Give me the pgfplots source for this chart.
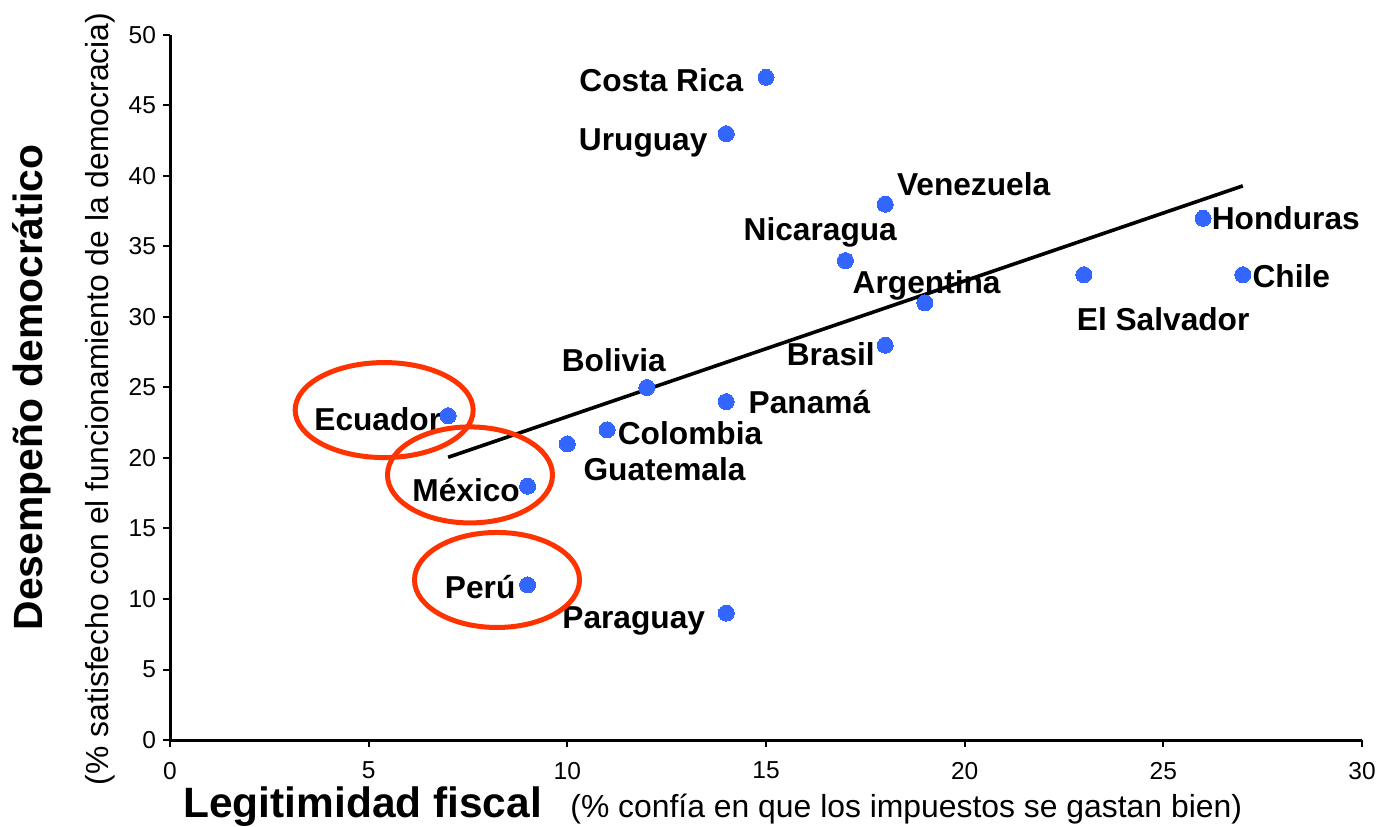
\documentclass[border=0pt]{standalone}
\usepackage{fontspec}
\setmainfont{Liberation Sans}
\usepackage{pgfplots}
\pgfplotsset{compat=1.18}
\usetikzlibrary{calc}
\definecolor{ptblue}{HTML}{3366FF}
\definecolor{circred}{HTML}{FF3300}
\tikzset{lab/.style={inner sep=0pt, font=\fontsize{15.9}{18}\selectfont\bfseries, text=black}}

\begin{document}
\begin{tikzpicture}
\begin{axis}[
  name=ax,
  scale only axis, width=596bp, height=352.5bp,
  xmin=0, xmax=30, ymin=0, ymax=50,
  xtick={0,5,...,30}, ytick={0,5,...,50},
  axis x line=bottom, axis y line=left,
  axis line style={-, line width=1.5bp, black},
  tick align=outside,
  major tick length=3.5bp,
  tick style={line width=1bp, black},
  ticklabel style={font=\fontsize{12.3}{14}\selectfont},
  /pgf/number format/assume math mode=true,
  xticklabel style={yshift=-4bp},
  clip=false,
]
\addplot[only marks, mark=*, mark size=4bp,
  mark options={draw=ptblue, fill=ptblue, line width=0pt}]
  coordinates {(15,47) (14,43) (18,38) (17,34) (19,31) (26,37) (27,33) (23,33)
               (12,25) (18,28) (14,24) (11,22) (10,21) (14,9) (7,23) (9,18) (9,11)};
\node[lab, anchor=base east, xshift=-11.2bp, yshift=-7bp]   at (axis cs:15,47) {Costa Rica};
\node[lab, anchor=base east, xshift=-9.2bp, yshift=-8.4bp]  at (axis cs:14,43) {Uruguay};
\node[lab, anchor=base west, xshift=5.7bp, yshift=4.5bp]    at (axis cs:18,38) {Venezuela};
\node[lab, anchor=base east, xshift=25.9bp, yshift=10bp]    at (axis cs:17,34) {Nicaragua};
\node[lab, anchor=base west, xshift=-36.3bp, yshift=4.5bp]  at (axis cs:19,31) {Argentina};
\node[lab, anchor=base west, xshift=4.2bp, yshift=-5.5bp]   at (axis cs:26,37) {Honduras};
\node[lab, anchor=base west, xshift=4.7bp, yshift=-6.4bp]   at (axis cs:27,33) {Chile};
\node[lab, anchor=base west, xshift=-3.7bp, yshift=-27.8bp] at (axis cs:23,33) {El Salvador};
\node[lab, anchor=base west, xshift=-42.7bp, yshift=8.2bp]  at (axis cs:12,25) {Bolivia};
\node[lab, anchor=base east, xshift=-5bp, yshift=-10.2bp]   at (axis cs:18,28) {Brasil};
\node[lab, anchor=base west, xshift=11bp, yshift=-6.2bp]    at (axis cs:14,24) {Panamá};
\node[lab, anchor=base west, xshift=5.2bp, yshift=-7.5bp]   at (axis cs:11,22) {Colombia};
\node[lab, anchor=base west, xshift=7.9bp, yshift=-18.3bp]  at (axis cs:10,21) {Guatemala};
\node[lab, anchor=base east, xshift=-10.4bp, yshift=-7.5bp] at (axis cs:14,9) {Paraguay};
\node[lab, anchor=base east, xshift=-3.3bp, yshift=-7.2bp]  at (axis cs:7,23) {Ecuador};
\node[lab, anchor=base east, xshift=-3.7bp, yshift=-7.7bp]  at (axis cs:9,18) {México};
\node[lab, anchor=base east, xshift=-5.9bp, yshift=-7bp]    at (axis cs:9,11) {Perú};
\addplot[black, line width=1.8bp] coordinates {(7,20.05) (27,39.3)};
\draw[circred, line width=2.5bp] (axis cs:5.39,23.4) ellipse [x radius=44.5bp, y radius=23.75bp];
\draw[circred, line width=2.5bp] (axis cs:7.55,18.8) ellipse [x radius=41.25bp, y radius=24bp];
\draw[circred, line width=2.5bp] (axis cs:8.23,11.35) ellipse [x radius=41.25bp, y radius=23.75bp];
\end{axis}
\node[rotate=90, anchor=base, inner sep=0pt, font=\fontsize{20.5}{24}\selectfont\bfseries]
  at ($(ax.south west)+(-63.5bp,176.25bp)$) {Desempeño democrático};
\node[rotate=90, anchor=base, inner sep=0pt, font=\fontsize{16}{18}\selectfont]
  at ($(ax.south west)+(-31bp,170.5bp)$) {(\% satisfecho con el funcionamiento de la democracia)};
\node[anchor=base west, inner sep=0pt, font=\fontsize{21.3}{24}\selectfont\bfseries]
  at ($(ax.south west)+(6.5bp,-38.5bp)$) {Legitimidad fiscal};
\node[anchor=base west, inner sep=0pt, font=\fontsize{16}{18}\selectfont]
  at ($(ax.south west)+(200bp,-38.5bp)$) {(\% confía en que los impuestos se gastan bien)};
\pgfresetboundingbox
\path ($(ax.south west)+(-85bp,-43.5bp)$) rectangle ($(ax.north east)+(8.5bp,17.5bp)$);
\end{tikzpicture}
\end{document}
